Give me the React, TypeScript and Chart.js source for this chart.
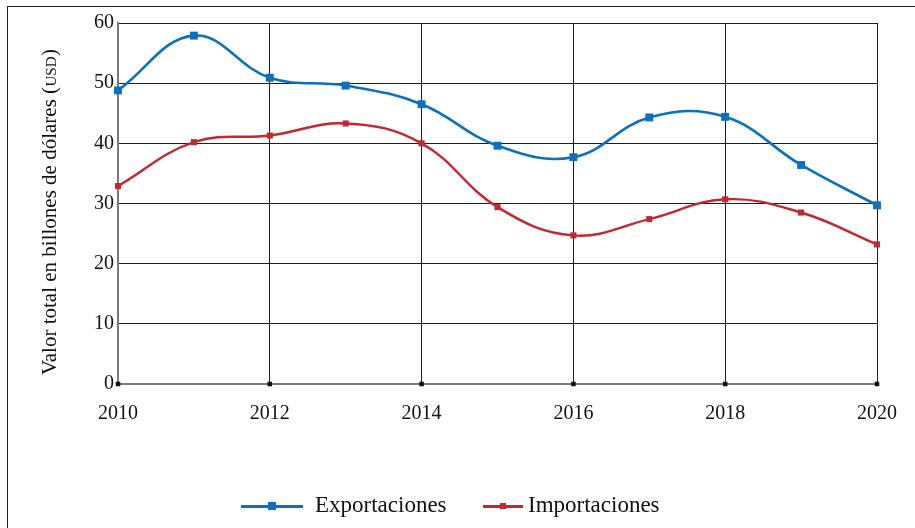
import React, { useEffect, useRef } from "react";
import { Chart, registerables } from "chart.js";

Chart.register(...registerables);

const years = [2010, 2011, 2012, 2013, 2014, 2015, 2016, 2017, 2018, 2019, 2020];
const exportaciones = [48.8, 57.9, 50.9, 49.6, 46.5, 39.6, 37.7, 44.3, 44.4, 36.4, 29.7];
const importaciones = [32.9, 40.2, 41.3, 43.3, 40.0, 29.4, 24.7, 27.4, 30.7, 28.5, 23.2];
const tickYears = [2010, 2012, 2014, 2016, 2018, 2020];
const seriesNames = ["Exportaciones", "Importaciones"];
const yTitleMain = "Valor total en billones de dólares (";
const yTitleUnit = "USD";
const yTitleEnd = ")";

const BLUE = "#0b71bd";
const RED = "#c5272f";
const FONT = "'Liberation Serif', 'Times New Roman', serif";

const yTitlePlugin = {
  id: "yTitle",
  afterDraw(chart: any) {
    const ctx = chart.ctx;
    ctx.save();
    ctx.fillStyle = "#111";
    const big = `21px ${FONT}`;
    const small = `15px ${FONT}`;
    ctx.font = big;
    const w1 = ctx.measureText(yTitleMain).width;
    const w3 = ctx.measureText(yTitleEnd).width;
    ctx.font = small;
    const w2 = ctx.measureText(yTitleUnit).width + 1;
    const total = w1 + w2 + w3;
    ctx.translate(56, 212);
    ctx.rotate(-Math.PI / 2);
    ctx.textBaseline = "alphabetic";
    ctx.textAlign = "left";
    let x = -total / 2;
    ctx.font = big;
    ctx.fillText(yTitleMain, x, 0);
    x += w1;
    ctx.font = small;
    ctx.fillText(yTitleUnit, x + 0.5, 0);
    x += w2;
    ctx.font = big;
    ctx.fillText(yTitleEnd, x, 0);
    ctx.restore();
  },
};

export default function App() {
  const ref = useRef<HTMLCanvasElement>(null);

  useEffect(() => {
    if (!ref.current) return;
    const chart = new Chart(ref.current, {
      type: "line",
      data: {
        datasets: [
          {
            label: seriesNames[0],
            data: years.map((y, i) => ({ x: y, y: exportaciones[i] })),
            borderColor: BLUE,
            backgroundColor: BLUE,
            borderWidth: 2.6,
            pointStyle: "rect",
            pointRadius: 5.6,
            pointBorderWidth: 0,
            tension: 0.4,
            fill: false,
            clip: false,
          },
          {
            label: seriesNames[1],
            data: years.map((y, i) => ({ x: y, y: importaciones[i] })),
            borderColor: RED,
            backgroundColor: RED,
            borderWidth: 2.4,
            pointStyle: "rect",
            pointRadius: 4.3,
            pointBorderWidth: 0,
            tension: 0.4,
            fill: false,
            clip: false,
          },
          {
            label: "ticks",
            data: tickYears.map((y) => ({ x: y, y: 0 })),
            showLine: false,
            borderColor: "#111",
            backgroundColor: "#111",
            pointStyle: "rect",
            pointRadius: 3.2,
            pointBorderWidth: 0,
            clip: false,
          },
        ],
      },
      options: {
        animation: false,
        responsive: false,
        maintainAspectRatio: false,
        layout: { padding: { left: 0, top: 23, right: 31, bottom: 0 } },
        plugins: {
          legend: { display: false },
          tooltip: { enabled: false },
        },
        scales: {
          x: {
            type: "linear",
            min: 2010,
            max: 2020,
            afterFit: (s: any) => {
              s.height = 144;
            },
            ticks: {
              stepSize: 2,
              padding: 18,
              color: "#111",
              font: { family: FONT, size: 20 },
              callback: (v: any) => String(v),
              maxRotation: 0,
            },
            grid: { color: "#1e1e1e", lineWidth: 1, drawTicks: false },
            border: { color: "#7a7a7a", width: 2 },
          },
          y: {
            min: 0,
            max: 60,
            afterFit: (s: any) => {
              s.width = 118;
            },
            ticks: {
              stepSize: 10,
              padding: 4,
              color: "#111",
              font: { family: FONT, size: 20 },
            },
            grid: { color: "#1e1e1e", lineWidth: 1, drawTicks: false },
            border: { color: "#7a7a7a", width: 2 },
          },
        },
      },
      plugins: [yTitlePlugin],
    });
    return () => chart.destroy();
  }, []);

  const legendText: React.CSSProperties = {
    position: "absolute",
    top: 492,
    fontFamily: FONT,
    fontSize: 23,
    lineHeight: "26px",
    color: "#111",
    whiteSpace: "nowrap",
  };

  return (
    <div style={{ position: "absolute", left: 0, top: 0, width: 915, height: 528, background: "#fff", overflow: "hidden" }}>
      <div style={{ position: "absolute", left: 7, top: 6, width: 920, height: 540, borderTop: "1.5px solid #222", borderLeft: "1.5px solid #222" }} />
      <canvas ref={ref} width={915} height={528} style={{ position: "absolute", left: 0, top: 0, width: 915, height: 528 }} />
      <div style={{ position: "absolute", left: 241, top: 505, width: 62, height: 3, background: BLUE }} />
      <div style={{ position: "absolute", left: 268, top: 502, width: 8, height: 8, background: BLUE }} />
      <div style={{ ...legendText, left: 315 }}>{seriesNames[0]}</div>
      <div style={{ position: "absolute", left: 483, top: 505, width: 40, height: 3, background: RED }} />
      <div style={{ position: "absolute", left: 500, top: 503, width: 6, height: 6, background: RED }} />
      <div style={{ ...legendText, left: 528 }}>{seriesNames[1]}</div>
    </div>
  );
}
